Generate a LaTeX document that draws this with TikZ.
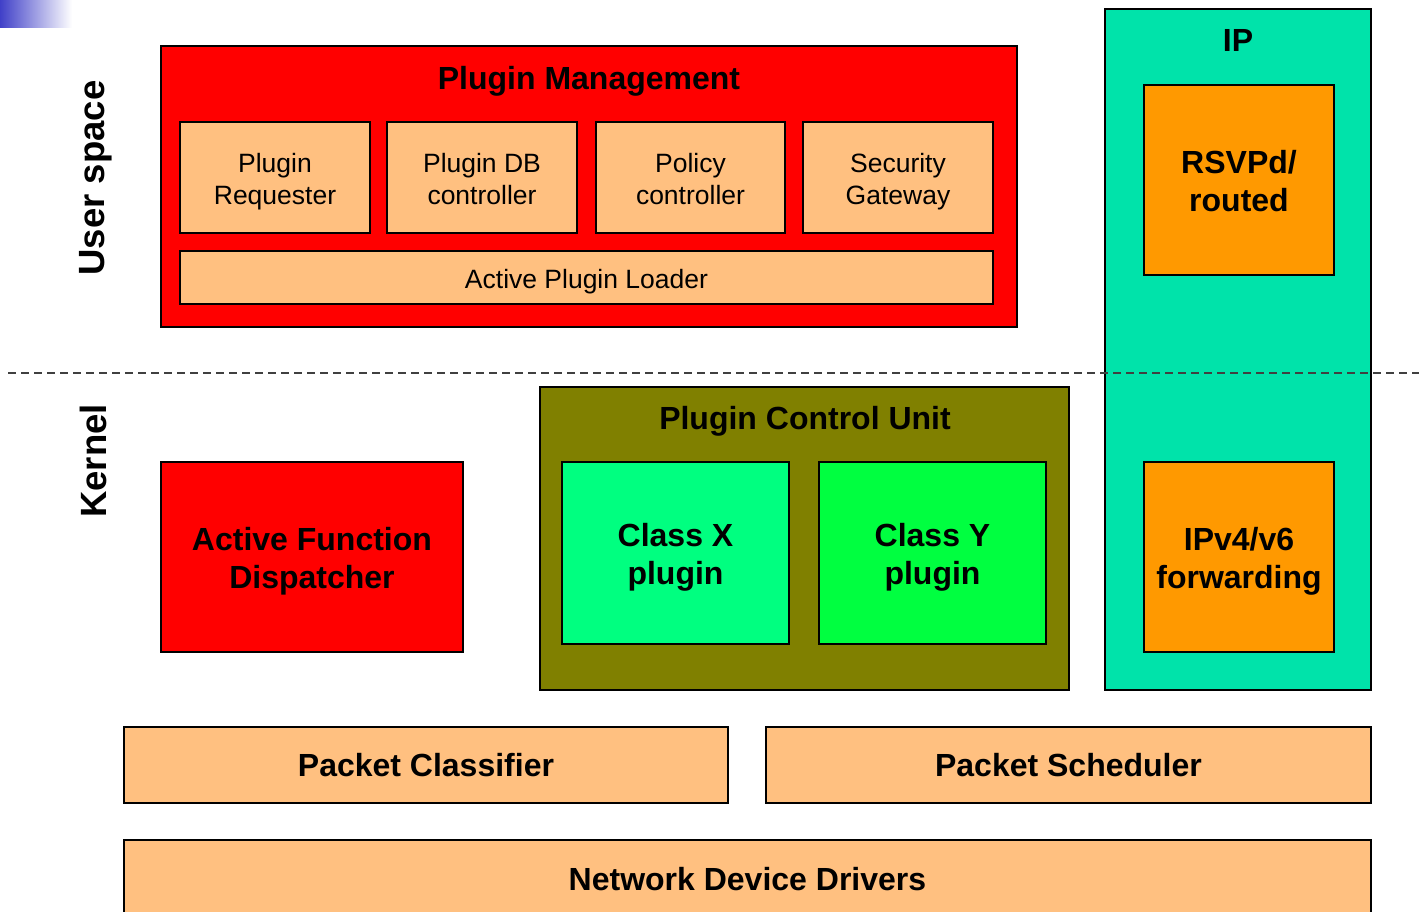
\documentclass[tikz,border=0pt]{standalone}
\usepackage{fontspec}
\setmainfont{Liberation Sans}
\definecolor{lorange}{RGB}{255,192,128}
\definecolor{ipteal}{RGB}{0,227,170}
\definecolor{dorange}{RGB}{255,153,0}
\definecolor{olivebox}{RGB}{128,128,0}
\definecolor{classx}{RGB}{0,255,128}
\definecolor{classy}{RGB}{0,255,64}
\definecolor{slideblue}{RGB}{64,64,200}
\newcommand{\rtopstrut}{\rule{0pt}{1.04em}}
\newcommand{\btopstrut}{\rule{0pt}{0.99em}}
\newcommand{\lowstrut}{\rule[-0.21em]{0pt}{0pt}}
\tikzset{
  box/.style={draw=black, line width=2.2pt, inner sep=0pt, align=center},
  reg/.style={font=\fontsize{26.5}{32}\selectfont},
  bld/.style={font=\fontsize{32}{38}\selectfont\bfseries},
  side/.style={font=\fontsize{36.5}{40}\selectfont\bfseries, rotate=90},
  ttl/.style={font=\fontsize{32}{38}\selectfont\bfseries, inner sep=0pt},
}
\begin{document}
\begin{tikzpicture}[x=1pt,y=-1pt]
\clip (0,0) rectangle (1419,911);
\fill[white] (0,0) rectangle (1419,911);
% slide decoration
\shade[left color=slideblue, right color=white] (0,0) rectangle (72,27);

% Plugin Management
\node[box, fill=red, minimum width=856, minimum height=281] (pm) at (589,186.5) {};
\node[ttl] (pmt) at (589,81) {Plugin Management};
\node[box, reg, fill=lorange, minimum width=190, minimum height=111] (req) at (275,177.5) {\rtopstrut Plugin\\Requester\lowstrut};
\node[box, reg, fill=lorange, minimum width=190, minimum height=111] (db) at (482,177.5) {\rtopstrut Plugin DB\\controller\lowstrut};
\node[box, reg, fill=lorange, minimum width=189, minimum height=111] (pol) at (690.5,177.5) {\rtopstrut Policy\\controller\lowstrut};
\node[box, reg, fill=lorange, minimum width=190, minimum height=111] (sec) at (898,177.5) {\rtopstrut Security\\Gateway\lowstrut};
\node[box, reg, fill=lorange, minimum width=813, minimum height=53] (apl) at (586.5,277.5) {\rtopstrut Active Plugin Loader\lowstrut};

% IP
\node[box, fill=ipteal, minimum width=266, minimum height=681] (ip) at (1238,349.5) {};
\node[ttl] (ipt) at (1238,40) {IP};
\node[box, bld, fill=dorange, minimum width=190, minimum height=190] (rsvp) at (1239,180) {\btopstrut RSVPd/\\routed\lowstrut};
\node[box, bld, fill=dorange, minimum width=190, minimum height=190] (fwd) at (1239,557) {\btopstrut IPv4/v6\\forwarding\lowstrut};

% separator
\coordinate (sepl) at (8,373);
\coordinate (sepr) at (1419,373);
\draw[line width=1.5pt, black!75, dash pattern=on 8pt off 5pt] (sepl) -- (sepr);

% side labels
\node[side] (us) at (96,178) {User space};
\node[side] (kn) at (93,461) {Kernel};

% Kernel
\node[box, bld, fill=red, minimum width=302, minimum height=190] (afd) at (312,557) {\btopstrut Active Function\\Dispatcher\lowstrut};
\node[box, fill=olivebox, minimum width=529, minimum height=303] (pcu) at (804.5,538.5) {};
\node[ttl] (pcut) at (805,421) {Plugin Control Unit};
\node[box, bld, fill=classx, minimum width=227, minimum height=182] (cx) at (675.5,553) {\btopstrut Class X\\plugin\lowstrut};
\node[box, bld, fill=classy, minimum width=227, minimum height=182] (cy) at (932.5,553) {\btopstrut Class Y\\plugin\lowstrut};

% bottom
\node[box, bld, fill=lorange, minimum width=604, minimum height=76] (pc) at (426,765) {Packet Classifier};
\node[box, bld, fill=lorange, minimum width=605, minimum height=76] (ps) at (1068.5,765) {Packet Scheduler};
\node[box, fill=lorange, minimum width=1247, minimum height=78] (ndd) at (747.5,879) {};
\node[ttl] (nddt) at (747.5,879) {Network Device Drivers};
\end{tikzpicture}
\end{document}
